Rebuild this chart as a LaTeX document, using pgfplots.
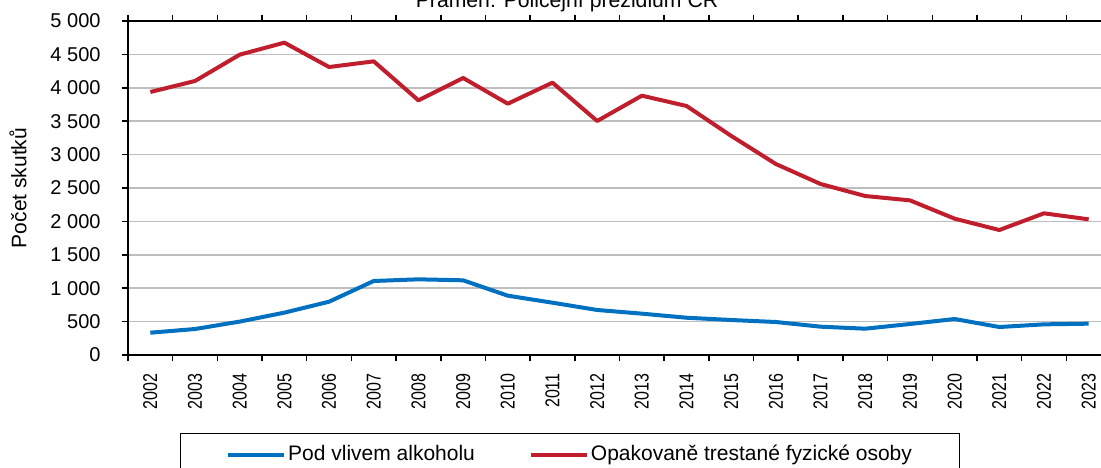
\documentclass[border=0pt]{standalone}
\usepackage{pgfplots}
\pgfplotsset{compat=1.18}
\usepackage{fontspec}
\setmainfont{Liberation Sans}
\newfontfamily\narrowfont[FakeStretch=0.8]{Liberation Sans}
\definecolor{cblue}{RGB}{0,112,192}
\definecolor{cred}{RGB}{192,30,45}
\definecolor{cgrid}{RGB}{190,190,190}
\begin{document}
\fontsize{10}{12}\selectfont
\begin{tikzpicture}
\begin{axis}[
  at={(64pt,56pt)}, anchor=south west,
  scale only axis, width=491.5pt, height=167pt,
  xmin=-0.5, xmax=21.5, ymin=0, ymax=5000,
  xtick={-0.5,0.5,...,21.5},
  x tick label as interval,
  xticklabels={2002,2003,2004,2005,2006,2007,2008,2009,2010,2011,2012,2013,2014,2015,2016,2017,2018,2019,2020,2021,2022,2023},
  ytick={0,500,...,5000},
  ymajorgrids, grid style={cgrid, line width=0.75pt},
  tick align=outside, major tick length=3.2pt,
  tick style={black, line width=0.75pt},
  axis line style={black, line width=0.9pt},
  xticklabel style={rotate=90, anchor=east, xshift=-2.5pt, font=\narrowfont\fontsize{10}{12}\selectfont},
  yticklabel style={xshift=-7pt, font=\fontsize{10}{12}\selectfont},
  /pgf/number format/.cd, 1000 sep={\ }, assume math mode=true, /pgfplots/.cd,
  ylabel={Počet skutků},
  ylabel style={at={(axis description cs:-0.112,0.5)}, anchor=center, font=\fontsize{10.5}{12}\selectfont},
  legend columns=2,
  legend image code/.code={\draw[#1] (0pt,0pt) -- (28pt,0pt);},
  legend style={at={(0.4497,-0.2335)}, anchor=north, draw=black, line width=0.5pt,
    inner xsep=23pt, inner ysep=4pt,
    font=\fontsize{10.5}{12}\selectfont,
    nodes={inner xsep=1pt, inner ysep=2pt},
    /tikz/every even column/.append style={column sep=26pt}},
]
\addplot[cblue, line width=2pt, line join=round] coordinates {
(0,334)(1,389)(2,500)(3,634)(4,798)(5,1108)(6,1133)(7,1118)(8,888)(9,783)(10,674)
(11,619)(12,558)(13,524)(14,494)(15,424)(16,394)(17,464)(18,539)(19,419)(20,459)(21,469)};
\addlegendentry{Pod vlivem alkoholu}
\addplot[cred, line width=2pt, line join=round] coordinates {
(0,3937)(1,4102)(2,4496)(3,4676)(4,4311)(5,4396)(6,3812)(7,4147)(8,3762)(9,4077)(10,3503)
(11,3882)(12,3728)(13,3280)(14,2859)(15,2560)(16,2380)(17,2315)(18,2041)(19,1871)(20,2121)(21,2031)};
\addlegendentry{Opakovaně trestané fyzické osoby}
\end{axis}
\node[anchor=base, font=\fontsize{10.6}{12}\selectfont] at (283.5pt,229.9pt) {Pramen: Policejní prezidium ČR};
\pgfresetboundingbox
\useasboundingbox (0,0) rectangle (550.5pt,233.5pt);
\end{tikzpicture}
\end{document}
